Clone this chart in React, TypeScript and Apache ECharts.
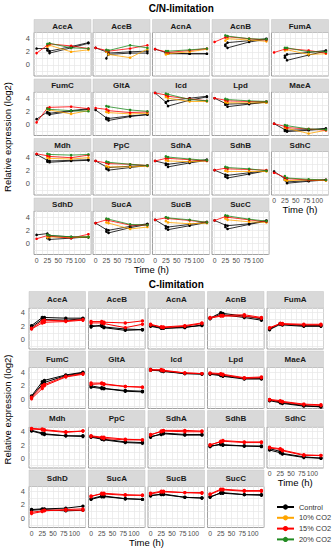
import React, { useEffect, useRef } from 'react';
import * as echarts from 'echarts';

// ---------------- DATA ----------------
const times = [0, 25, 30, 80, 120];
const genes = ['AceA', 'AceB', 'AcnA', 'AcnB', 'FumA', 'FumC', 'GltA', 'Icd', 'Lpd', 'MaeA', 'Mdh', 'PpC', 'SdhA', 'SdhB', 'SdhC', 'SdhD', 'SucA', 'SucB', 'SucC'];
const conditions = ['Control', '10% CO2', '15% CO2', '20% CO2'];
const conditionColors = ['#000000', '#FFA500', '#FF0000', '#228B22'];
const xTickLabels = [0, 25, 50, 75, 100];
const yTickLabels = [0, 2, 4];
const panelTitles = ['C/N-limitation', 'C-limitation'];

type V = (number | null)[];

// C/N-limitation (one row per gene, values at `times`)
const cnControl1: V[] = [
  [2.5, 2.5, 2.1, 2.8, 3.4], [null, 1.0, 1.8, 2.0, 2.1], [2.4, 1.9, 1.8, 1.7, 1.7], [null, 3.1, 3.4, 3.7, 4.0], [null, 1.1, 1.6, 1.9, 2.2],
  [0.8, 1.9, 1.7, 2.1, 2.4], [2.2, 1.0, 0.9, 1.3, 1.5], [4.8, 3.4, 3.6, 4.0, 4.3], [4.0, 3.2, 3.1, 3.2, 3.4], [0.1, -0.8, -0.9, -0.8, -0.6],
  [4.5, 3.6, 3.5, 3.6, 3.7], [3.5, 2.6, 2.5, 2.7, 2.8], [3.5, 3.1, 3.0, 3.4, 3.7], [2.1, 1.4, 1.3, 1.7, 2.0], [1.9, 0.8, 0.3, 0.5, 0.6],
  [1.3, 1.5, 1.2, 1.0, 0.9], [3.1, 2.1, 2.0, 2.6, 3.0], [3.6, 2.6, 2.5, 2.9, 3.3], [3.5, 2.8, 2.7, 3.0, 3.5],
];
const cnControl2: V[] = [
  [null, 2.2, 1.8, 2.6, 3.3], [2.6, 2.0, 1.6, 1.8, 1.8], [null, 1.8, 1.7, 1.7, 1.7], [null, 2.9, 2.6, 3.5, 3.9], [null, 1.4, 0.7, 1.5, 2.1],
  [null, 1.7, 1.5, 2.0, 2.3], [null, 0.8, 0.6, 1.2, 1.5], [null, 3.3, 2.8, 3.7, 4.2], [null, 3.0, 2.7, 3.1, 3.4], [null, -1.0, -1.1, -0.9, -0.7],
  [null, 3.4, 3.3, 3.5, 3.6], [null, 2.3, 2.1, 2.5, 2.8], [null, 2.9, 2.6, 3.2, 3.6], [null, 1.1, 0.9, 1.5, 2.0], [null, 0.6, 0.1, 0.4, 0.6],
  [null, 0.8, 0.6, 0.8, 1.0], [null, 1.8, 1.6, 2.4, 2.9], [null, 2.3, 2.1, 2.7, 3.2], [null, 2.5, 2.2, 2.9, 3.4],
];
const cn10: V[] = [
  [null, 2.8, 3.0, 2.0, 2.3], [null, 2.0, 1.6, 1.1, 2.4], [null, 1.6, 1.7, 2.0, 2.4], [null, 3.7, 4.0, 3.8, 3.6], [null, 2.2, 2.3, 1.6, 1.7],
  [null, 2.3, 2.2, 1.6, 2.1], [null, 1.9, 1.8, 1.6, 1.7], [null, 4.2, 4.0, 3.5, 3.5], [null, 3.4, 3.3, 3.3, 3.3], [null, -0.5, -0.6, -1.4, -0.9],
  [null, 4.0, 3.9, 3.8, 4.0], [null, 2.7, 2.6, 2.6, 2.7], [null, 3.6, 3.5, 3.4, 3.5], [null, 2.0, 1.9, 1.9, 1.9], [null, 0.6, 0.5, 0.6, 0.5],
  [null, 0.9, 1.0, 0.9, 1.0], [null, 3.2, 3.1, 2.2, 2.5], [null, 3.4, 3.2, 3.0, 3.1], [null, 3.8, 3.6, 3.3, 3.2],
];
const cn15: V[] = [
  [1.8, 3.0, 3.2, 2.9, 2.5], [2.6, 2.2, 2.1, 2.5, 3.0], [2.4, 2.0, 1.9, 2.2, 2.5], [3.5, 4.2, 4.3, 4.0, 3.8], [1.9, 2.4, 2.5, 2.2, 1.8],
  [0.3, 2.5, 2.6, 2.7, 2.4], [2.5, 2.3, 2.1, 1.8, 1.9], [4.8, 4.5, 4.3, 3.9, 3.6], [4.0, 3.7, 3.6, 3.5, 3.5], [0.1, -0.3, -0.5, -0.7, -0.9],
  [4.6, 4.3, 4.2, 4.0, 4.4], [3.5, 3.2, 3.1, 3.0, 2.8], [3.5, 3.9, 3.9, 3.7, 3.5], [2.1, 2.4, 2.3, 2.2, 2.1], [1.7, 1.0, 0.8, 0.6, 0.6],
  [0.7, 1.2, 1.1, 0.8, 1.4], [3.1, 3.6, 3.5, 2.8, 2.8], [3.6, 3.9, 3.8, 3.5, 3.2], [3.5, 4.1, 4.0, 3.6, 3.3],
];
const cn20: V[] = [
  [null, 3.2, 3.3, 2.6, 2.5], [null, 2.3, 2.2, 3.0, 2.6], [null, 2.1, 2.1, 2.3, 2.5], [null, 4.5, 4.4, 4.0, 3.9], [null, 2.6, 2.6, 2.0, 2.0],
  [null, 2.4, 2.3, 2.1, 2.0], [null, 2.8, 2.7, 2.2, 2.0], [null, 4.7, 4.6, 3.8, 3.6], [null, 3.9, 3.8, 3.6, 3.5], [null, -0.1, -0.2, -0.7, -0.8],
  [null, 4.6, 4.5, 4.4, 4.5], [null, 3.4, 3.3, 3.0, 2.8], [null, 4.2, 4.1, 3.8, 3.6], [null, 2.6, 2.5, 2.3, 2.0], [null, 1.2, 0.9, 0.7, 0.6],
  [null, 1.3, 1.2, 1.0, 1.0], [null, 3.8, 3.7, 2.9, 2.8], [null, 4.0, 3.9, 3.6, 3.2], [null, 4.3, 4.2, 3.7, 3.4],
];

// C-limitation
const cControl1: V[] = [
  [2.1, 3.3, 3.3, 3.2, 3.2], [1.9, 2.2, 1.9, 1.6, 1.5], [2.1, 1.8, 1.7, 1.8, 2.2], [3.2, 4.0, 3.9, 3.5, 3.1], [1.6, 2.4, 2.3, 2.1, 2.1],
  [0.5, 2.6, 2.8, 3.6, 4.0], [2.0, 1.7, 1.6, 1.3, 1.2], [4.4, 4.2, 4.2, 3.8, 3.8], [3.8, 3.6, 3.5, 3.1, 3.1], [-0.1, -0.4, -0.5, -0.9, -1.1],
  [4.2, 3.8, 3.7, 3.4, 3.4], [3.3, 3.0, 2.9, 2.5, 2.4], [3.2, 3.7, 3.8, 3.6, 3.6], [1.8, 2.2, 2.1, 1.9, 1.9], [1.5, 1.1, 0.8, 0.3, 0.1],
  [1.3, 1.4, 1.4, 1.5, 1.8], [2.9, 3.3, 3.3, 2.9, 2.8], [3.3, 3.6, 3.6, 3.1, 3.0], [3.1, 3.8, 3.8, 3.5, 3.5],
];
const cControl2: V[] = [
  [1.9, 3.0, 3.0, 2.9, 3.1], [2.1, 2.0, 1.8, 1.4, 1.5], [2.0, 1.7, 1.7, 1.9, 2.1], [3.1, 3.8, 3.7, 3.3, 2.9], [1.5, 2.3, 2.2, 2.0, 2.0],
  [0.4, 2.2, 2.5, 3.5, 3.9], [1.8, 1.6, 1.6, 1.2, 1.1], [4.3, 4.2, 4.1, 3.8, 3.7], [3.7, 3.5, 3.4, 3.0, 3.0], [-0.2, -0.5, -0.6, -1.0, -1.1],
  [4.1, 3.7, 3.6, 3.4, 3.3], [3.2, 2.9, 2.8, 2.4, 2.3], [3.3, 3.6, 3.7, 3.5, 3.5], [1.9, 2.1, 2.0, 1.9, 1.8], [1.3, 0.9, 0.7, 0.2, 0.1],
  [1.2, 1.3, 1.3, 1.1, 1.2], [2.8, 3.2, 3.2, 2.9, 2.8], [3.4, 3.5, 3.5, 3.1, 3.0], [3.2, 3.7, 3.7, 3.5, 3.4],
];
const c15a: V[] = [
  [1.6, 2.5, 2.6, 2.7, 2.9], [2.7, 2.7, 2.6, 2.5, 2.8], [2.3, 1.9, 1.9, 2.1, 2.5], [3.3, 3.6, 3.6, 3.7, 3.3], [1.8, 2.4, 2.4, 2.3, 2.3],
  [0.1, 1.6, 2.0, 3.3, 3.7], [2.4, 2.4, 2.3, 1.9, 1.8], [4.3, 4.4, 4.3, 3.9, 3.8], [3.9, 3.8, 3.7, 3.2, 3.3], [0.0, -0.2, -0.3, -0.7, -0.8],
  [4.5, 4.4, 4.3, 4.0, 4.1], [3.4, 3.2, 3.2, 2.9, 2.8], [3.5, 4.1, 4.2, 4.2, 4.1], [2.0, 2.6, 2.7, 2.5, 2.5], [1.7, 1.5, 1.3, 0.6, 0.5],
  [0.7, 1.0, 1.1, 1.3, 1.4], [3.2, 3.7, 3.7, 3.5, 3.4], [3.7, 4.0, 4.0, 3.8, 3.8], [3.6, 4.3, 4.3, 4.1, 4.1],
];
const c15b: V[] = [
  [1.7, 2.8, 2.9, 2.8, 3.0], [2.5, 2.5, 2.4, 1.8, 2.3], [2.2, 1.9, 1.8, 2.0, 2.4], [3.2, 3.5, 3.5, 3.5, 3.2], [1.7, 2.4, 2.3, 2.2, 2.2],
  [0.3, 2.0, 2.2, 3.4, 3.8], [2.2, 2.3, 2.2, 1.9, 1.8], [4.4, 4.3, 4.2, 3.9, 3.8], [3.8, 3.7, 3.6, 3.1, 3.2], [-0.1, -0.3, -0.4, -0.8, -0.9],
  [4.4, 4.3, 4.2, 3.9, 4.1], [3.3, 3.1, 3.0, 2.8, 2.8], [3.6, 4.0, 4.1, 4.0, 4.0], [2.1, 2.5, 2.6, 2.4, 2.4], [1.6, 1.4, 1.2, 0.5, 0.5],
  [0.9, 1.1, 1.2, 1.2, 1.2], [3.3, 3.6, 3.6, 3.4, 3.4], [3.6, 3.9, 3.9, 3.8, 3.7], [3.5, 4.2, 4.2, 4.0, 4.0],
];

// ---------------- LAYOUT / STYLE ----------------
const FONT = "'Liberation Sans', Arial, sans-serif";
const xGridValues = [0, 12.5, 25, 37.5, 50, 62.5, 75, 87.5, 100, 112.5, 125];
const yGridValues = [-1, 0, 1, 2, 3, 4];

const panels = [
  {
    colLeft: [34, 93, 152.5, 212, 271.5], colW: 57,
    stripTop: [19.5, 79, 138.5, 198], stripH: 13, plotH: 43.5,
    yMin: -1.7, yMax: 4.95, lw: 0.8, sym: 2.6, titleY: 8.5,
    groups: [
      { cond: 0, data: cnControl1 }, { cond: 0, data: cnControl2 },
      { cond: 1, data: cn10 }, { cond: 2, data: cn15 }, { cond: 3, data: cn20 },
    ],
  },
  {
    colLeft: [29, 88.5, 148, 207.5, 267], colW: 56.5,
    stripTop: [291.5, 351, 410.5, 470], stripH: 16.5, plotH: 41,
    yMin: -1.35, yMax: 4.7, lw: 1, sym: 3.4, titleY: 284,
    groups: [
      { cond: 0, data: cControl1 }, { cond: 0, data: cControl2 },
      { cond: 2, data: c15a }, { cond: 2, data: c15b },
    ],
  },
];

function buildOption() {
  const grids: any[] = [];
  const xAxes: any[] = [];
  const yAxes: any[] = [];
  const series: any[] = [];
  const graphics: any[] = [];
  let gi = 0;

  panels.forEach((p, pi) => {
    const left = p.colLeft[0];
    const right = p.colLeft[4] + p.colW;
    graphics.push({
      type: 'text', x: (left + right) / 2, y: p.titleY,
      style: { text: panelTitles[pi], fill: '#000', fontSize: 10, fontWeight: 'bold', fontFamily: FONT, align: 'center', verticalAlign: 'middle' },
    });
    const top = p.stripTop[0];
    const bottom = p.stripTop[3] + p.stripH + p.plotH;
    graphics.push({
      type: 'text', x: 7.5, y: (top + bottom) / 2, rotation: Math.PI / 2,
      style: { text: 'Relative expression (log2)', fill: '#000', fontSize: 9.5, fontFamily: FONT, align: 'center', verticalAlign: 'middle' },
    });
    graphics.push({
      type: 'text', x: (p.colLeft[0] + p.colLeft[3] + p.colW) / 2, y: bottom + 14.5,
      style: { text: 'Time (h)', fill: '#000', fontSize: 9.5, fontFamily: FONT, align: 'center', verticalAlign: 'middle' },
    });
    graphics.push({
      type: 'text', x: p.colLeft[4] + p.colW / 2, y: p.stripTop[2] + p.stripH + p.plotH + 14.5,
      style: { text: 'Time (h)', fill: '#000', fontSize: 9.5, fontFamily: FONT, align: 'center', verticalAlign: 'middle' },
    });

    genes.forEach((g, i) => {
      const row = Math.floor(i / 5);
      const col = i % 5;
      const gx = p.colLeft[col];
      const sy = p.stripTop[row];
      const isBottom = row === 3 || (row === 2 && col === 4);
      const isLeft = col === 0;
      graphics.push({
        type: 'rect', shape: { x: gx, y: sy, width: p.colW, height: p.stripH },
        style: { fill: '#d9d9d9', stroke: '#c4c4c4', lineWidth: 0.5 },
      });
      graphics.push({
        type: 'text', x: gx + p.colW / 2, y: sy + p.stripH / 2,
        style: { text: g, fill: '#1a1a1a', fontSize: 8, fontWeight: 'bold', fontFamily: FONT, align: 'center', verticalAlign: 'middle' },
      });
      grids.push({
        left: gx, top: sy + p.stripH, width: p.colW, height: p.plotH,
        show: true, backgroundColor: '#ffffff', borderColor: '#8a8a8a', borderWidth: 0.8,
      });
      xAxes.push({
        type: 'value', gridIndex: gi, min: -6, max: 126,
        axisLine: { show: false },
        axisTick: { show: false, customValues: xGridValues },
        axisLabel: { show: isBottom, customValues: xTickLabels, fontSize: 6.8, color: '#4d4d4d', margin: 2, fontFamily: FONT, hideOverlap: false },
        splitLine: { show: true, lineStyle: { color: '#e6e6e6', width: 0.7 } },
      });
      yAxes.push({
        type: 'value', gridIndex: gi, min: p.yMin, max: p.yMax,
        axisLine: { show: false },
        axisTick: { show: false, customValues: yGridValues },
        axisLabel: { show: isLeft, customValues: yTickLabels, fontSize: 7.5, color: '#4d4d4d', margin: 4, fontFamily: FONT },
        splitLine: { show: true, lineStyle: { color: '#e6e6e6', width: 0.7 } },
      });
      p.groups.forEach((grp) => {
        const vals = grp.data[i];
        const pts = times
          .map((t, k) => [t, vals[k]] as [number, number | null])
          .filter((d) => d[1] !== null);
        series.push({
          type: 'line', name: conditions[grp.cond], xAxisIndex: gi, yAxisIndex: gi,
          data: pts, symbol: 'circle', symbolSize: p.sym, silent: true,
          lineStyle: { color: conditionColors[grp.cond], width: p.lw },
          itemStyle: { color: conditionColors[grp.cond] },
          emphasis: { disabled: true },
        });
      });
      gi++;
    });
  });

  return {
    animation: false,
    backgroundColor: '#ffffff',
    grid: grids,
    xAxis: xAxes,
    yAxis: yAxes,
    series,
    graphic: graphics,
    legend: {
      orient: 'vertical', left: 271, top: 497,
      itemWidth: 17, itemHeight: 6.5, itemGap: 0.8,
      selectedMode: false,
      lineStyle: { width: 2 },
      textStyle: { fontSize: 7.4, color: '#333', fontFamily: FONT, lineHeight: 10 },
      data: conditions.map((c) => ({ name: c })),
    },
  };
}

export default function App() {
  const ref = useRef<HTMLDivElement>(null);
  useEffect(() => {
    document.body.style.margin = '0';
    if (!ref.current) return;
    const chart = echarts.init(ref.current, undefined, { renderer: 'svg' });
    chart.setOption(buildOption() as any);
    return () => chart.dispose();
  }, []);
  return <div ref={ref} style={{ position: 'absolute', left: 0, top: 0, width: 335, height: 550 }} />;
}
